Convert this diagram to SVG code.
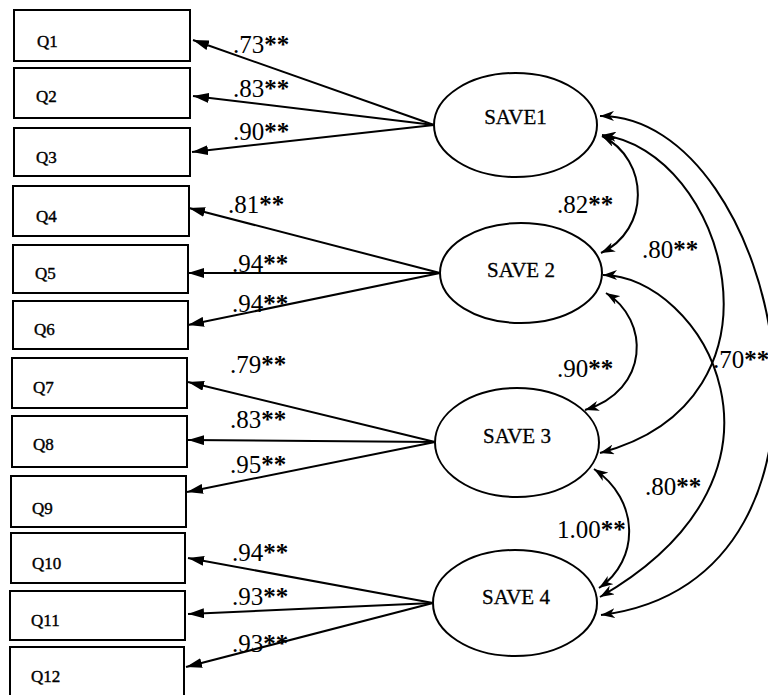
<svg xmlns="http://www.w3.org/2000/svg" width="768" height="695" viewBox="0 0 768 695">
<defs>
<style>
.box{fill:#fff;stroke:#000;stroke-width:2}
.ell{fill:#fff;stroke:#000;stroke-width:2}
.q{font-family:"Liberation Serif",serif;font-size:17px;fill:#000;stroke:#000;stroke-width:0.4}
.s{font-family:"Liberation Serif",serif;font-size:21px;fill:#000;stroke:#000;stroke-width:0.3;text-anchor:middle}
.lab{font-family:"Liberation Serif",serif;font-size:25px;fill:#000}
.st{font-weight:bold}
.ln{fill:none;stroke:#000;stroke-width:2}
.cv{fill:none;stroke:#000;stroke-width:2}
</style>
<marker id="ah" viewBox="0 0 16 10" refX="16" refY="5" markerWidth="16" markerHeight="10" markerUnits="userSpaceOnUse" orient="auto">
<path d="M0,0 L16,5 L0,10 z" fill="#000"/>
</marker>
<marker id="ch" viewBox="0 0 14 10" refX="14" refY="5" markerWidth="14" markerHeight="10" markerUnits="userSpaceOnUse" orient="auto-start-reverse">
<path d="M0,0 L14,5 L0,10 L4,5 z" fill="#000"/>
</marker>
</defs>
<rect width="768" height="695" fill="#fff"/>

<g id="connectors">
<path class="ln" d="M434,125 L193,40" marker-end="url(#ah)"/>
<path class="ln" d="M434,125 L193,96" marker-end="url(#ah)"/>
<path class="ln" d="M434,125 L192,152" marker-end="url(#ah)"/>
<path class="ln" d="M440,273 L189,208" marker-end="url(#ah)"/>
<path class="ln" d="M440,273 L188,273" marker-end="url(#ah)"/>
<path class="ln" d="M440,273 L188,325" marker-end="url(#ah)"/>
<path class="ln" d="M435,442 L188,382" marker-end="url(#ah)"/>
<path class="ln" d="M435,442 L188,440" marker-end="url(#ah)"/>
<path class="ln" d="M435,442 L187,492" marker-end="url(#ah)"/>
<path class="ln" d="M433,603 L188,558" marker-end="url(#ah)"/>
<path class="ln" d="M433,603 L188,614" marker-end="url(#ah)"/>
<path class="ln" d="M433,603 L186,667" marker-end="url(#ah)"/>

<path class="cv" d="M602,136 C650,160 650,230 601,253" marker-start="url(#ch)" marker-end="url(#ch)"/>
<path class="cv" d="M606,293 C650,320 650,390 585,410" marker-start="url(#ch)" marker-end="url(#ch)"/>
<path class="cv" d="M594,469 C640,500 640,560 599,588" marker-start="url(#ch)" marker-end="url(#ch)"/>
<path class="cv" d="M602,135 C725,150 800,400 600,453" marker-start="url(#ch)" marker-end="url(#ch)"/>
<path class="cv" d="M603,275 C700,275 820,470 600,597" marker-start="url(#ch)" marker-end="url(#ch)"/>
<path class="cv" d="M600,116 C780,115 880,580 601,615" marker-start="url(#ch)" marker-end="url(#ch)"/>
</g>

<g id="Q1"><rect class="box" x="14" y="10" width="176" height="51"/><text class="q" x="37" y="47">Q1</text></g>
<g id="Q2"><rect class="box" x="14" y="68" width="176" height="50"/><text class="q" x="36" y="102">Q2</text></g>
<g id="Q3"><rect class="box" x="14" y="128" width="176" height="48"/><text class="q" x="36" y="163">Q3</text></g>
<g id="Q4"><rect class="box" x="13" y="186" width="176" height="50"/><text class="q" x="36" y="222">Q4</text></g>
<g id="Q5"><rect class="box" x="13" y="245" width="175" height="48"/><text class="q" x="35" y="279">Q5</text></g>
<g id="Q6"><rect class="box" x="13" y="301" width="175" height="48"/><text class="q" x="34" y="335">Q6</text></g>
<g id="Q7"><rect class="box" x="12" y="358" width="175" height="50"/><text class="q" x="33" y="393">Q7</text></g>
<g id="Q8"><rect class="box" x="12" y="416" width="175" height="51"/><text class="q" x="33" y="450">Q8</text></g>
<g id="Q9"><rect class="box" x="11" y="476" width="175" height="51"/><text class="q" x="32" y="514">Q9</text></g>
<g id="Q10"><rect class="box" x="11" y="533" width="174" height="50"/><text class="q" x="32" y="569">Q10</text></g>
<g id="Q11"><rect class="box" x="10" y="591" width="175" height="49"/><text class="q" x="31" y="626">Q11</text></g>
<g id="Q12"><rect class="box" x="10" y="647" width="174" height="52"/><text class="q" x="31" y="682">Q12</text></g>

<g id="SAVE1"><ellipse class="ell" cx="515.5" cy="125" rx="81.5" ry="52"/><text class="s" x="515.5" y="124">SAVE1</text></g>
<g id="SAVE2"><ellipse class="ell" cx="521" cy="273" rx="81" ry="50"/><text class="s" x="521" y="277">SAVE 2</text></g>
<g id="SAVE3"><ellipse class="ell" cx="517" cy="442.5" rx="82" ry="54.5"/><text class="s" x="517" y="443">SAVE 3</text></g>
<g id="SAVE4"><ellipse class="ell" cx="515" cy="603" rx="82" ry="53"/><text class="s" x="516" y="604">SAVE 4</text></g>

<g id="labels">
<text class="lab" x="233" y="53">.73<tspan class="st">**</tspan></text>
<text class="lab" x="233" y="97">.83<tspan class="st">**</tspan></text>
<text class="lab" x="233" y="140">.90<tspan class="st">**</tspan></text>
<text class="lab" x="228" y="213">.81<tspan class="st">**</tspan></text>
<text class="lab" x="232" y="272">.94<tspan class="st">**</tspan></text>
<text class="lab" x="232" y="312">.94<tspan class="st">**</tspan></text>
<text class="lab" x="230" y="373">.79<tspan class="st">**</tspan></text>
<text class="lab" x="230" y="428">.83<tspan class="st">**</tspan></text>
<text class="lab" x="230" y="473">.95<tspan class="st">**</tspan></text>
<text class="lab" x="232" y="561">.94<tspan class="st">**</tspan></text>
<text class="lab" x="232" y="605">.93<tspan class="st">**</tspan></text>
<text class="lab" x="232" y="652">.93<tspan class="st">**</tspan></text>
<text class="lab" x="557" y="213">.82<tspan class="st">**</tspan></text>
<text class="lab" x="642" y="258">.80<tspan class="st">**</tspan></text>
<text class="lab" x="557" y="377">.90<tspan class="st">**</tspan></text>
<text class="lab" x="713" y="368">.70<tspan class="st">**</tspan></text>
<text class="lab" x="645" y="495">.80<tspan class="st">**</tspan></text>
<text class="lab" x="557" y="538">1.00<tspan class="st">**</tspan></text>
</g>
</svg>
